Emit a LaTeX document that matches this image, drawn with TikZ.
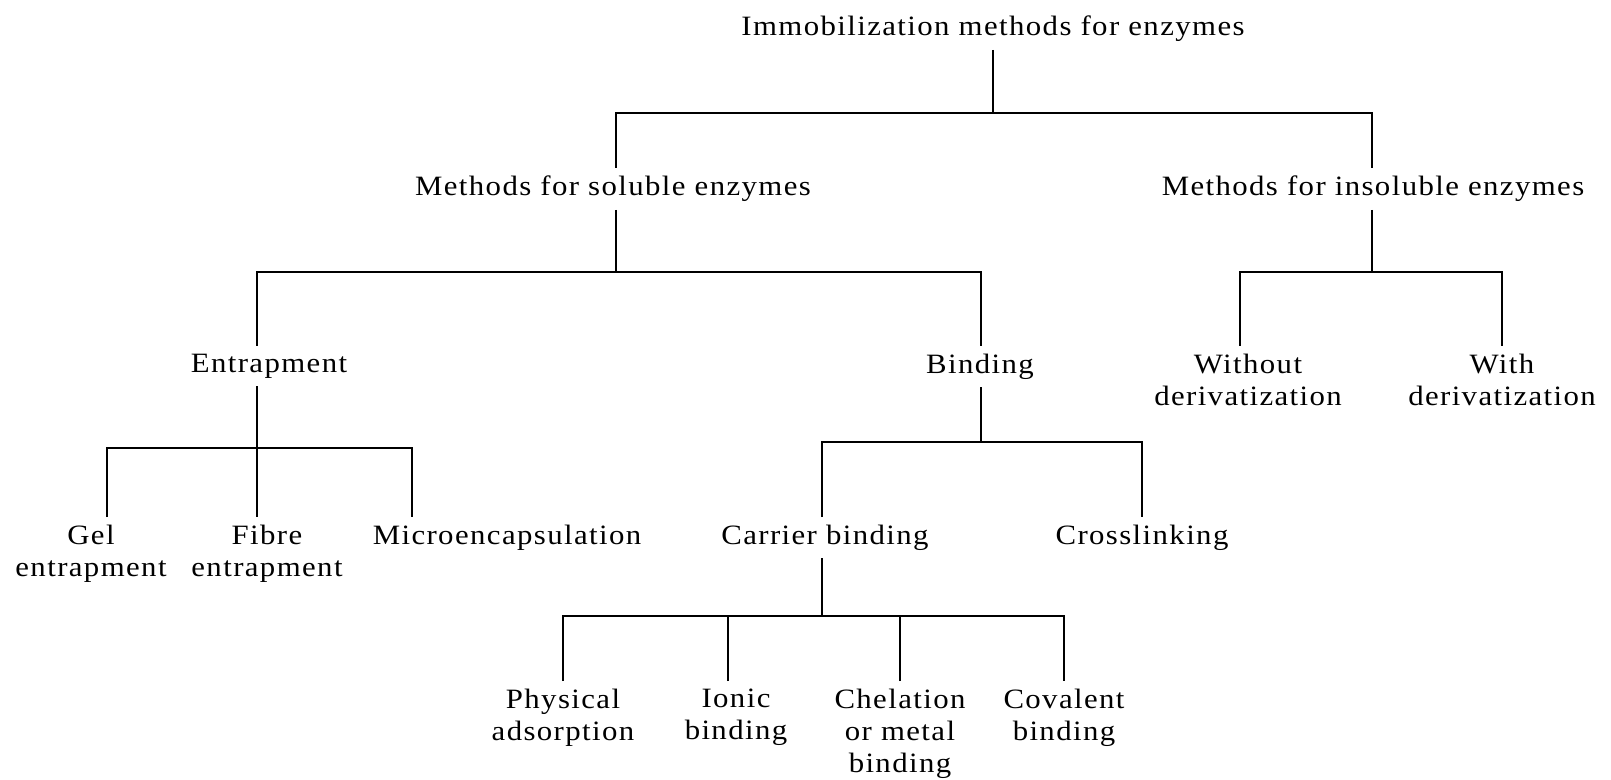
\documentclass[tikz,border=0pt]{standalone}
\usepackage{fontspec}
\setmainfont{Liberation Serif}[FakeStretch=1.1,LetterSpace=5]
\begin{document}
\begin{tikzpicture}[x=0.5pt,y=-0.5pt,line width=1.4pt,
    lbl/.style={anchor=north,inner sep=0pt,outer sep=4pt,align=center,
        font=\fontsize{14}{16}\selectfont}]
    \useasboundingbox (0,0) rectangle (1611,780);
    % Define node positions
    \node[lbl] (title) at (993,8) {Immobilization methods for enzymes};
    \node[lbl] (sol) at (613,168) {Methods for soluble enzymes}; \node[lbl]
    (ins) at (1373,168) {Methods for insoluble enzymes};
    \node[lbl] (ent) at (269,346) {Entrapment}; \node[lbl] (bind) at (980,346)
    {Binding}; \node[lbl] (wo) at (1248,346) {Without\\derivatization};
    \node[lbl] (wi) at (1502,346) {With\\derivatization};
    \node[lbl] (gel) at (91,517) {Gel\\entrapment}; \node[lbl] (fib) at
    (267,517) {Fibre\\entrapment}; \node[lbl] (mic) at (507,517)
    {Microencapsulation}; \node[lbl] (car) at (825,517) {Carrier binding};
    \node[lbl] (cro) at (1142,517) {Crosslinking};
    \node[lbl] (phy) at (563,681) {Physical\\adsorption}; \node[lbl] (ion) at
    (736,681) {Ionic\\binding}; \node[lbl] (che) at (900,681)
    {Chelation\\or metal\\binding}; \node[lbl] (cov) at (1064,681)
    {Covalent\\binding};
    % Junctions on the bars
    \coordinate (jT) at (993,113); \coordinate (jS) at (616,272);
    \coordinate (jI) at (1372,272); \coordinate (jE) at (257,448);
    \coordinate (jB) at (981,442); \coordinate (jC) at (822,616);
    % Draw connectors
    \draw (title) -- (jT); \draw (sol.north -| jS) |- (jT) -| (ins.north -|
    jI);
    \draw (sol.south -| jS) -- (jS); \draw (ent.north -| jE) |- (jS) -|
    (bind.north -| jB);
    \draw (ins.south -| jI) -- (jI); \draw ([xshift=-4pt]wo.north) |- (jI) -|
    (wi.north);
    \draw (ent.south -| jE) -- (fib.north -| jE); \draw ([xshift=8pt]gel.north)
    |- (jE) -| ([xshift=-47.5pt]mic.north);
    \draw (bind.south -| jB) -- (jB); \draw (car.north -| jC) |- (jB) -|
    (cro.north);
    \draw (car.south -| jC) -- (jC); \draw (phy.north) |- (jC) -| (cov.north);
    \draw ([xshift=-4pt]ion.north) -- ([xshift=-4pt]ion.north |- jC); \draw
    (che.north) -- (che.north |- jC);
\end{tikzpicture}
\end{document}
